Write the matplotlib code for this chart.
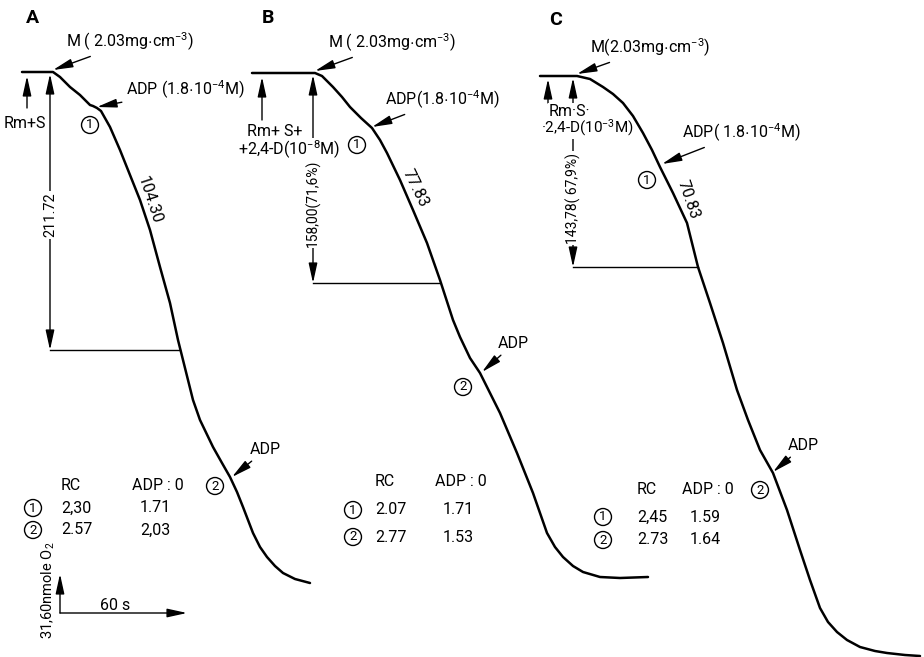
import numpy as np
import matplotlib
matplotlib.use("Agg")
import matplotlib.pyplot as plt

plt.rcParams['font.family'] = ['Roboto', 'DejaVu Sans']
plt.rcParams['mathtext.fontset'] = 'custom'
plt.rcParams['mathtext.rm'] = 'Roboto'
plt.rcParams['mathtext.it'] = 'Roboto'
plt.rcParams['mathtext.bf'] = 'Roboto:bold'

# oxygen electrode traces (image pixel frame, y grows downward)
trace_a_x = [22, 53, 60, 70, 80, 87, 90, 93, 97, 101, 110, 120, 128, 140, 150, 160, 170,
             178, 183, 188, 193, 200, 213, 222, 230, 237, 243, 253, 260, 267, 275, 283, 295, 310]
trace_a_y = [72, 72, 77, 87, 95, 102, 105, 106, 108, 111, 127, 150, 170, 200, 230, 267, 303,
             340, 360, 380, 400, 420, 447, 463, 477, 492, 507, 533, 547, 557, 566, 573, 579, 583]

trace_b_x = [252, 315, 322, 333, 342, 350, 361, 372, 380, 387, 400, 413, 427, 440, 453, 460,
             470, 480, 490, 500, 517, 533, 547, 555, 563, 573, 583, 600, 620, 648]
trace_b_y = [73, 73, 76, 87, 97, 107, 118, 128, 140, 153, 180, 210, 243, 280, 320, 337,
             358, 373, 393, 413, 453, 493, 533, 547, 557, 566, 572, 577, 578, 577]

trace_c_x = [540, 577, 590, 603, 613, 623, 633, 643, 652, 660, 673, 687, 698, 710, 723, 737,
             748, 760, 773, 787, 800, 810, 820, 828, 837, 847, 860, 875, 887, 905, 920]
trace_c_y = [76, 76, 79, 87, 94, 103, 116, 133, 150, 167, 193, 223, 267, 303, 343, 390,
             420, 450, 473, 510, 550, 580, 608, 622, 632, 640, 647, 651, 653, 655, 656]

panels = ['A', 'B', 'C']
m_labels = [r'M ( 2.03mg$\cdot$cm$^{-3}$)', r'M ( 2.03mg$\cdot$cm$^{-3}$)',
            r'M(2.03mg$\cdot$cm$^{-3}$)']
adp1_labels = [r'ADP (1.8$\cdot$10$^{-4}$M)', r'ADP(1.8$\cdot$10$^{-4}$M)',
               r'ADP( 1.8$\cdot$10$^{-4}$M)']
rate_labels = ['104.30', '77.83', '70.83']
dim_labels = ['211.72', '158,00(71,6%)', '143,78( 67,9%)']
rc_values = [['2,30', '2.57'], ['2.07', '2.77'], ['2,45', '2.73']]
adp_o_values = [['1.71', '2,03'], ['1.71', '1.53'], ['1.59', '1.64']]

fig = plt.figure(figsize=(9.24, 6.57), dpi=100)
ax = fig.add_axes([0, 0, 1, 1])
ax.set_xlim(0, 924)
ax.set_ylim(657, 0)
ax.axis('off')

FS = 11.5
HEAD = '-|>,head_length=1.0,head_width=0.22'
arrow = dict(arrowstyle=HEAD, color='black', lw=1.0, mutation_scale=12, shrinkA=0, shrinkB=0)

for xs, ys in [(trace_a_x, trace_a_y), (trace_b_x, trace_b_y), (trace_c_x, trace_c_y)]:
    ax.plot(xs, ys, color='black', lw=1.8, solid_joinstyle='round', solid_capstyle='round',
            zorder=5)


def pointer(label, tip, start, size=FS):
    ax.annotate(label, xy=tip, xytext=start, ha='left', va='center', fontsize=size,
                arrowprops=dict(arrow, shrinkA=1))


def circled(num, x, y):
    ax.text(x, y, num, ha='center', va='center', fontsize=9.5,
            bbox=dict(boxstyle='circle,pad=0.15', fc='white', ec='black', lw=1.0))


def dimension(x, top, bottom, xend, label, ymid, size=FS - 1):
    ax.annotate('', xy=(x, top), xytext=(x, bottom),
                arrowprops=dict(arrow, arrowstyle='<|-|>,head_length=1.0,head_width=0.22'))
    ax.plot([x, xend], [bottom, bottom], color='black', lw=1.0)
    ax.text(x, ymid, label, rotation=90, ha='center', va='center', fontsize=size,
            bbox=dict(boxstyle='square,pad=0.1', fc='white', ec='none'))


# panel letters
for lab, (x, y) in zip(panels, [(32, 18), (268, 18), (556, 20)]):
    ax.text(x, y, lab, fontsize=14, fontweight='bold', ha='center', va='center')

# addition marks
pointer(m_labels[0], (53, 70), (66, 42))
pointer(m_labels[1], (315, 71), (328, 43))
pointer(m_labels[2], (577, 74), (590, 48))
pointer(adp1_labels[0], (97, 107), (126, 90))
pointer(adp1_labels[1], (372, 127), (385, 100))
pointer(adp1_labels[2], (662, 164), (682, 133))
pointer('ADP', (232, 477), (250, 450))
pointer('ADP', (482, 372), (498, 344))
pointer('ADP', (773, 472), (788, 446))

circled('1', 90, 125)
circled('1', 357, 145)
circled('1', 647, 180)
circled('2', 215, 486)
circled('2', 463, 387)
circled('2', 760, 490)

# substrate additions
ax.annotate('', xy=(27, 76), xytext=(27, 108), arrowprops=arrow)
ax.text(25, 123, 'Rm+S', ha='center', va='center', fontsize=FS)
ax.annotate('', xy=(262, 77), xytext=(262, 120), arrowprops=arrow)
ax.text(275, 132, 'Rm+ S+', ha='center', va='center', fontsize=FS)

# dimension lines
dimension(50, 74, 350, 180, dim_labels[0], 215)
dimension(313, 75, 283, 440, dim_labels[1], 203, FS - 1.5)
dimension(573, 78, 267, 698, dim_labels[2], 198, FS - 1.5)

ax.text(289, 150, r'+2,4-D(10$^{-8}$M)', ha='center', va='center', fontsize=FS,
        bbox=dict(boxstyle='square,pad=0.05', fc='white', ec='none'))
ax.annotate('', xy=(548, 79), xytext=(548, 103), arrowprops=arrow)
ax.text(549, 111, 'Rm·S·', ha='left', va='center', fontsize=FS,
        bbox=dict(boxstyle='square,pad=0.05', fc='white', ec='none'))
ax.text(541, 128, r'·2,4-D(10$^{-3}$M)', ha='left', va='center', fontsize=FS - 0.5,
        bbox=dict(boxstyle='square,pad=0.05', fc='white', ec='none'))

# rates along the traces
for lab, (x, y), rot in zip(rate_labels, [(150, 200), (415, 188), (688, 200)], [-72, -64, -71]):
    ax.text(x, y, lab, rotation=rot, rotation_mode='anchor', ha='center', va='center',
            fontsize=FS)

# RC / ADP:O tables
table_pos = [(33, 61, 158, 485, 508, 530), (353, 375, 461, 482, 510, 537),
             (603, 637, 708, 490, 517, 540)]
for (xc, xrc, xadp, yh, y1, y2), rcs, ados in zip(table_pos, rc_values, adp_o_values):
    ax.text(xrc + 10, yh, 'RC', ha='center', va='center', fontsize=FS)
    ax.text(xadp, yh, 'ADP : 0', ha='center', va='center', fontsize=FS)
    for num, yy, rc, ado in zip(['1', '2'], [y1, y2], rcs, ados):
        circled(num, xc, yy)
        ax.text(xrc, yy, rc, ha='left', va='center', fontsize=FS)
        ax.text(xadp - 3, yy, ado, ha='center', va='center', fontsize=FS)

# scale bars
ax.annotate('', xy=(60, 574), xytext=(60, 613), arrowprops=arrow)
ax.annotate('', xy=(187, 613), xytext=(60, 613), arrowprops=arrow)
ax.text(115, 605, '60 s', ha='center', va='center', fontsize=FS)
ax.text(48, 590, r'31,60nmole O$_2$', rotation=90, ha='center', va='center', fontsize=FS - 1)

fig.savefig('out.png', dpi=100)
